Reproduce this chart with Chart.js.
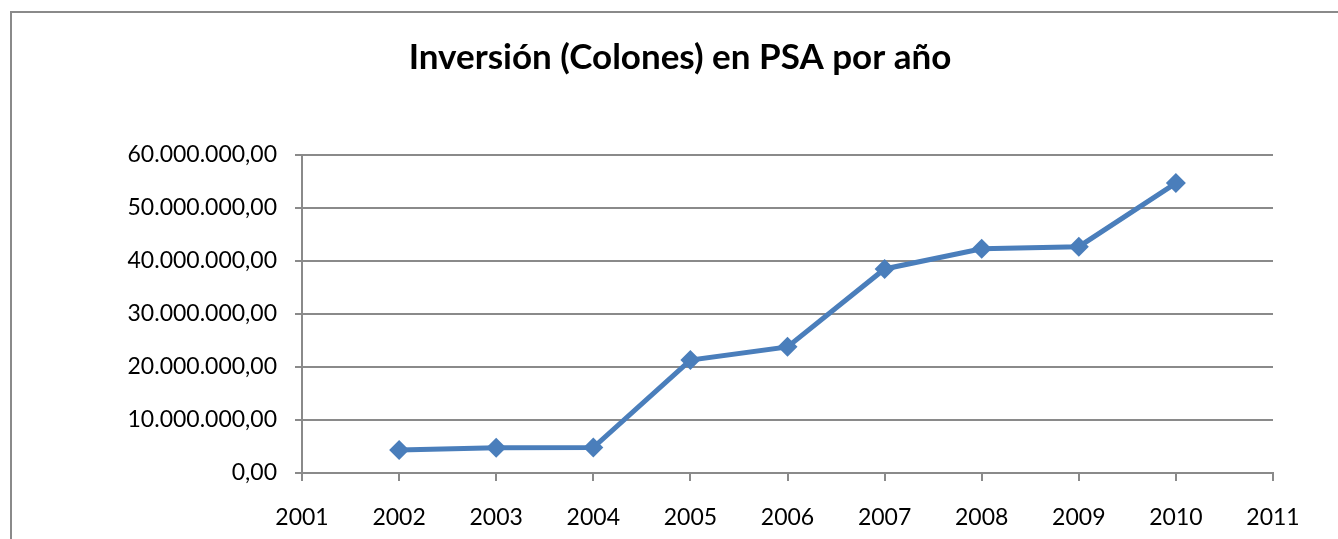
<!DOCTYPE html>
<html>
<head>
<meta charset="utf-8">
<script src="https://cdn.jsdelivr.net/npm/chart.js@4"></script>
<style>
html,body{margin:0;padding:0;background:#fff;}
#wrap{width:1338px;height:539px;position:relative;}
</style>
</head>
<body>
<div id="wrap"><canvas id="c" width="1338" height="539"></canvas></div>
<script>
const years = [2002, 2003, 2004, 2005, 2006, 2007, 2008, 2009, 2010];
const investment = [4340000, 4770000, 4800000, 21300000, 23800000, 38500000, 42300000, 42700000, 54700000];
const xTickRange = [2001, 2011];
const yTickRange = [0, 60000000];
const yStep = 10000000;
const titleText = 'Inversión (Colones) en PSA por año';

function fmtEs(v) {
  const intPart = Math.round(v).toString().replace(/\B(?=(\d{3})+(?!\d))/g, '.');
  return intPart + ',00';
}

const FONT = 'Lato, "Open Sans", sans-serif';
const GRID = '#8a8a8a';

const borderPlugin = {
  id: 'outerBorder',
  beforeDraw(chart) {
    const ctx = chart.ctx;
    ctx.save();
    ctx.fillStyle = '#fff';
    ctx.fillRect(0, 0, chart.width, chart.height);
    ctx.strokeStyle = '#8a8a8a';
    ctx.lineWidth = 2;
    ctx.strokeRect(11, 12, chart.width + 20, chart.height + 20);
    ctx.restore();
  }
};

new Chart(document.getElementById('c'), {
  type: 'line',
  data: {
    datasets: [{
      data: years.map((y, i) => ({x: y, y: investment[i]})),
      borderColor: '#4a7ebb',
      backgroundColor: '#4a7ebb',
      borderWidth: 5,
      pointStyle: 'rectRot',
      pointRadius: 10,
      pointHoverRadius: 10,
      pointBorderWidth: 0,
      tension: 0
    }]
  },
  options: {
    responsive: false,
    animation: false,
    events: [],
    layout: {padding: {left: 87, right: 65, top: 0, bottom: 0}},
    plugins: {
      legend: {display: false},
      tooltip: {enabled: false},
      title: {
        display: true,
        text: titleText,
        color: '#000',
        font: {family: FONT, size: 35, weight: 'bold', lineHeight: 1.2},
        padding: {top: 37, bottom: 76}
      }
    },
    scales: {
      x: {
        type: 'linear',
        min: xTickRange[0],
        max: xTickRange[1],
        afterFit(scale) { scale.height = 66; },
        ticks: {
          stepSize: 1,
          color: '#000',
          font: {family: FONT, size: 23},
          padding: 23,
          maxRotation: 0,
          callback: v => String(v)
        },
        grid: {drawOnChartArea: false, drawTicks: true, tickLength: 8, color: GRID, lineWidth: 2},
        border: {display: true, color: GRID, width: 2}
      },
      y: {
        min: yTickRange[0],
        max: yTickRange[1],
        afterFit(scale) { scale.width = 215; },
        ticks: {
          stepSize: yStep,
          color: '#000',
          font: {family: FONT, size: 23},
          padding: 18,
          callback: v => fmtEs(v)
        },
        grid: {drawOnChartArea: true, drawTicks: true, tickLength: 7, color: GRID, lineWidth: 2},
        border: {display: true, color: GRID, width: 2}
      }
    }
  },
  plugins: [borderPlugin]
});
</script>
</body>
</html>
